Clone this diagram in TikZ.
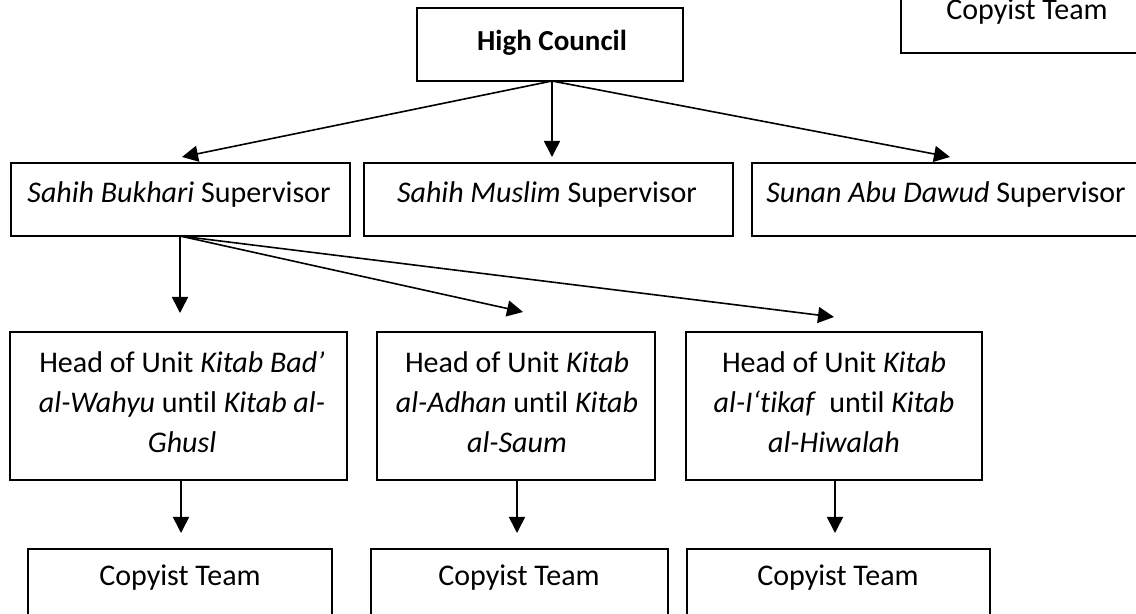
\documentclass[tikz,border=0pt]{standalone}
\usepackage{fontspec}
\setmainfont{Carlito}[Ligatures=NoCommon]
\usetikzlibrary{arrows.meta,fit}
\tikzset{
  box/.style={draw, line width=0.9pt, inner sep=0pt},
  lbl/.style={inner sep=0pt, align=center, font=\fontsize{15pt}{20pt}\selectfont},
  hclbl/.style={inner sep=0pt, font=\fontsize{14.5pt}{18pt}\selectfont\bfseries},
  arr/.style={line width=0.8pt, -{Triangle[length=8pt,width=8pt]}}
}
\begin{document}
\begin{tikzpicture}[x=0.5pt, y=-0.5pt]
\clip (0,0) rectangle (1136,614);
\fill[white] (0,0) rectangle (1136,614);

% top level
\node[box, fit={(417,8) (683,81)}] (hc) {};
\node[hclbl] (hct) at (552,43) {High Council};

% top-right copyist box (cut by the page edge)
\node[box, fit={(901,-40) (1150,53)}] (tr) {};
\node[lbl] (trt) at (1027,12) {Copyist Team};

% supervisors
\node[box, fit={(11,163) (350,236)}] (sb) {};
\node[lbl] (sbt) at (179,195) {\textit{Sahih Bukhari} Supervisor};
\node[box, fit={(364,163) (733,236)}] (sm) {};
\node[lbl] (smt) at (547,195) {\textit{Sahih Muslim} Supervisor};
\node[box, fit={(752,163) (1150,236)}] (sd) {};
\node[lbl] (sdt) at (946,195) {\textit{Sunan Abu Dawud} Supervisor};

% heads of unit
\node[box, fit={(10,332) (347,480)}] (h1) {};
\node[lbl] (h1t) at (182,402) {Head of Unit \textit{Kitab Bad’}\\ \textit{al-Wahyu} until \textit{Kitab al-}\\ \textit{Ghusl}};
\node[box, fit={(377,332) (655,480)}] (h2) {};
\node[lbl] (h2t) at (517,402) {Head of Unit \textit{Kitab}\\ \textit{al-Adhan} until \textit{Kitab}\\ \textit{al-Saum}};
\node[box, fit={(686,332) (982,480)}] (h3) {};
\node[lbl] (h3t) at (834,402) {Head of Unit \textit{Kitab}\\ \textit{al-I‘tikaf}\ \ until \textit{Kitab}\\ \textit{al-Hiwalah}};

% copyist teams
\node[box, fit={(28,549) (332,650)}] (c1) {};
\node[lbl] (c1t) at (180,578) {Copyist Team};
\node[box, fit={(371,549) (668,650)}] (c2) {};
\node[lbl] (c2t) at (519,578) {Copyist Team};
\node[box, fit={(687,549) (990,650)}] (c3) {};
\node[lbl] (c3t) at (838,578) {Copyist Team};

% arrow ends
\coordinate (o1) at (552,81);
\coordinate (e1) at (182,157);
\coordinate (e2) at (552,157);
\coordinate (e3) at (950,157);
\coordinate (o2) at (180,236);
\coordinate (f1) at (180,313);
\coordinate (f2) at (523,312);
\coordinate (f3) at (834,317);
\coordinate (g1s) at (181,480);
\coordinate (g1) at (181,533);
\coordinate (g2s) at (517,480);
\coordinate (g2) at (517,533);
\coordinate (g3s) at (835,480);
\coordinate (g3) at (835,533);

\draw[arr] (o1) -- (e1);
\draw[arr] (o1) -- (e2);
\draw[arr] (o1) -- (e3);
\draw[arr] (o2) -- (f1);
\draw[arr] (o2) -- (f2);
\draw[arr] (o2) -- (f3);
\draw[arr] (g1s) -- (g1);
\draw[arr] (g2s) -- (g2);
\draw[arr] (g3s) -- (g3);
\end{tikzpicture}
\end{document}
